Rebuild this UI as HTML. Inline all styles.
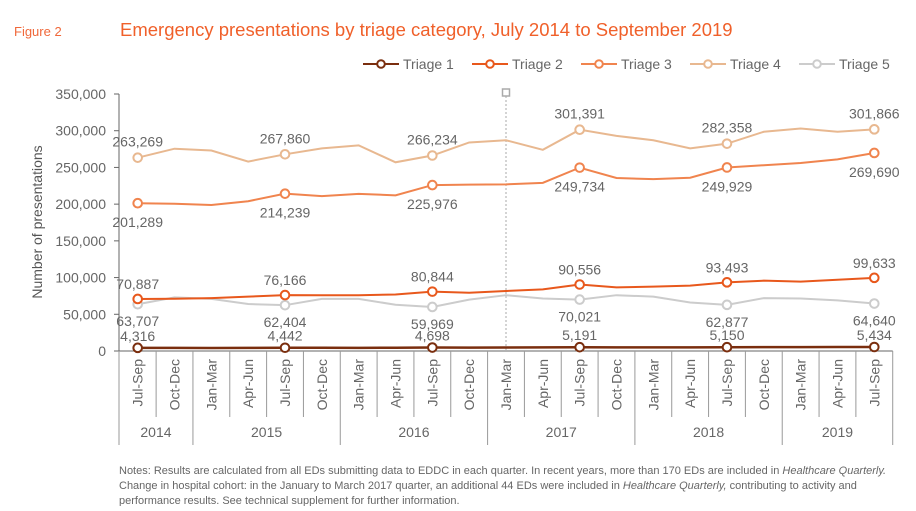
<!DOCTYPE html>
<html><head><meta charset="utf-8"><style>
body{margin:0;background:#fff;font-family:"Liberation Sans",sans-serif}
svg text{font-family:"Liberation Sans",sans-serif}
</style></head><body>
<svg width="916" height="506" xmlns="http://www.w3.org/2000/svg">
<text x="14" y="36" font-size="13" fill="#f0683a">Figure 2</text>
<text x="120" y="36" font-size="18.5" fill="#f0602a">Emergency presentations by triage category, July 2014 to September 2019</text>
<g id="legend"></g>
<g id="yaxis"></g>
<text transform="translate(42,222) rotate(-90)" text-anchor="middle" font-size="14" fill="#555">Number of presentations</text>
<g id="xaxis"></g>
<g id="series"></g>
<text x="119" y="474" font-size="11" fill="#666">Notes: Results are calculated from all EDs submitting data to EDDC in each quarter. In recent years, more than 170 EDs are included in <tspan font-style="italic">Healthcare Quarterly.</tspan></text>
<text x="119" y="489" font-size="11" fill="#666">Change in hospital cohort: in the January to March 2017 quarter, an additional 44 EDs were included in <tspan font-style="italic">Healthcare Quarterly,</tspan> contributing to activity and</text>
<text x="119" y="504" font-size="11" fill="#666">performance results. See technical supplement for further information.</text>
</svg>
<script>
const quarters=["Jul-Sep","Oct-Dec","Jan-Mar","Apr-Jun","Jul-Sep","Oct-Dec","Jan-Mar","Apr-Jun","Jul-Sep","Oct-Dec","Jan-Mar","Apr-Jun","Jul-Sep","Oct-Dec","Jan-Mar","Apr-Jun","Jul-Sep","Oct-Dec","Jan-Mar","Apr-Jun","Jul-Sep"];
const years=["2014","2015","2016","2017","2018","2019"];
const yTicks=[0,50000,100000,150000,200000,250000,300000,350000];
const triage1=[4316,4200,4100,4300,4442,4400,4300,4500,4698,4600,4700,4900,5191,5000,4900,5000,5150,5200,5300,5400,5434];
const triage2=[70887,71100,72000,74000,76166,76000,76000,77000,80844,79400,81700,84000,90556,86700,87600,89000,93493,95800,94500,97000,99633];
const triage3=[201289,200600,198800,204000,214239,211000,214000,212000,225976,226500,227000,229000,249734,235600,234000,236000,249929,253000,256000,261000,269690];
const triage4=[263269,275500,273000,258000,267860,276000,280000,257000,266234,284000,287000,274000,301391,293000,287000,276000,282358,298600,303000,298600,301866];
const triage5=[63707,73000,71000,64000,62404,71000,71000,63000,59969,70000,76000,71500,70021,76000,74000,66000,62877,72000,71500,69000,64640];
const seriesNames=["Triage 1","Triage 2","Triage 3","Triage 4","Triage 5"];
const labelIdx=[0,4,8,12,16,20];
const NS="http://www.w3.org/2000/svg";
const colors=["#7a2e0e","#e8581c","#f0844e","#e8b890","#cccccc"];
const X0=137.7,DX=36.83,Y0=351,YPX=257/350000;
const xs=i=>X0+i*DX, ys=v=>Y0-v*YPX;
function mk(tag,attrs,parent){const e=document.createElementNS(NS,tag);for(const k in attrs)e.setAttribute(k,attrs[k]);parent.appendChild(e);return e;}
const fmt=v=>v.toLocaleString("en-US");
const ya=document.getElementById("yaxis");
const l=mk("line",{x1:119,y1:ys(350000),x2:119,y2:Y0,stroke:"#666"},ya);


yTicks.forEach(t=>{
 const tk=mk("line",{x1:114,x2:119,y1:ys(t),y2:ys(t),stroke:"#666"},ya);
 
 
 const tx=mk("text",{x:106,y:ys(t)+5,"text-anchor":"end","font-size":14,fill:"#666"},ya);
 tx.textContent=fmt(t);
 
 
});
const xa=document.getElementById("xaxis");
const base=mk("line",{x1:119,x2:xs(20)+DX/2,y1:Y0,y2:Y0,stroke:"#666"},xa);


quarters.forEach((q,i)=>{
 const t=mk("text",{transform:`translate(${xs(i)+5},${Y0+8}) rotate(-90)`,"text-anchor":"end","font-size":14,fill:"#666"},xa);
 t.textContent=q;
 
 
 const b=xs(i)+DX/2;
 const yearEdge=(i%4===1)||i===quarters.length-1;
 const d=mk("line",{x1:b,x2:b,y1:Y0,y2:yearEdge?445:417,stroke:"#999"},xa);
 
 
});
const le=mk("line",{x1:119,x2:119,y1:Y0,y2:445,stroke:"#999"},xa);


years.forEach((y,k)=>{
 const s=k===0?0:4*k-2, e=k===0?1:Math.min(4*k+1,20);
 const cx=k===0?(119+xs(1)+DX/2)/2:(xs(s)-DX/2+xs(e)+DX/2)/2;
 const t=mk("text",{x:cx,y:437,"text-anchor":"middle","font-size":14,fill:"#666"},xa);
 t.textContent=y;
 
 
});
const vl=mk("line",{x1:xs(10),x2:xs(10),y1:96,y2:Y0,stroke:"#aaa","stroke-dasharray":"2,2"},xa);


const sq=mk("rect",{x:xs(10)-3.5,y:89,width:7,height:7,fill:"#fff",stroke:"#aaa","stroke-width":1.5},xa);


const sg=document.getElementById("series");
const all=[triage1,triage2,triage3,triage4,triage5];
const labelOff=[-7,-10,24,-11,22];
[4,3,2,1,0].forEach(si=>{
 const data=all[si];
 const p=mk("polyline",{points:data.map((v,i)=>xs(i)+","+ys(v)).join(" "),fill:"none",stroke:colors[si],"stroke-width":si===0?2.5:2},sg);
 
 
 labelIdx.forEach(i=>{
  const c=mk("circle",{cx:xs(i),cy:ys(data[i]),r:4.3,fill:"#fff",stroke:colors[si],"stroke-width":2},sg);
  
  
  const t=mk("text",{x:xs(i),y:ys(data[i])+labelOff[si],"text-anchor":"middle","font-size":14,fill:"#666"},sg);
  t.textContent=fmt(data[i]);
  
  
 });
});
const lg=document.getElementById("legend");
const lx=[363,472,581,690,799];
seriesNames.forEach((n,i)=>{
 const a=mk("line",{x1:lx[i],x2:lx[i]+36,y1:64,y2:64,stroke:colors[i],"stroke-width":2},lg);
 
 
 const c=mk("circle",{cx:lx[i]+18,cy:64,r:3.8,fill:"#fff",stroke:colors[i],"stroke-width":2},lg);
 
 
 const t=mk("text",{x:lx[i]+40,y:69,"font-size":14,fill:"#666"},lg);
 t.textContent=n;
 
 
});
</script>
</body></html>
